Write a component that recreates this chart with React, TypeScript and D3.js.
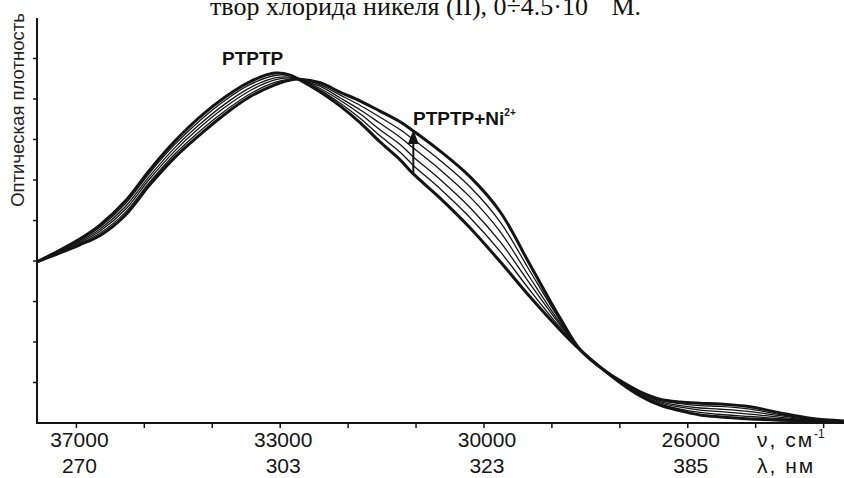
import React from "react";
import * as d3 from "d3";

// Spectral positions along the lower axis, expressed in tick steps (tick 0 = 37000 cm-1).
const positions = [
  -0.58, -0.24, 0.05, 0.35, 0.72, 1.08, 1.45, 1.82, 2.19, 2.56, 2.92, 3.15,
  3.29, 3.59, 3.88, 4.18, 4.47, 4.77, 4.96, 5.35, 5.8, 6.24, 6.68, 7.12,
  7.42, 7.71, 8.01, 8.3, 8.59, 8.89, 9.18, 9.48, 9.92, 10.36, 10.8, 11.3,
];

// Optical density (relative units) for increasing Ni(II) concentration.
const absFree = [
  39.8, 42.7, 45.4, 48.9, 54.8, 62.5, 69.6, 75.6, 80.5, 84.3, 86.4, 85.9,
  84.7, 81.7, 78.3, 74.1, 69.4, 64.9, 61.5, 55.6, 48.1, 39.8, 31.1, 23.0,
  18.0, 13.8, 9.9, 6.7, 4.4, 3.0, 2.0, 1.5, 1.0, 0.7, 0.5, 0.2,
];
const absNi1 = [
  39.8, 42.6, 45.2, 48.4, 54.1, 61.8, 68.8, 74.7, 79.7, 83.6, 85.8, 85.7,
  84.7, 82.2, 79.0, 75.2, 70.9, 66.8, 63.6, 57.9, 50.6, 42.3, 32.7, 23.6,
  18.0, 13.8, 10.0, 6.9, 4.7, 3.4, 2.6, 2.1, 1.6, 1.1, 0.6, 0.3,
];
const absNi2 = [
  39.8, 42.5, 44.9, 47.9, 53.4, 61.0, 68.0, 73.8, 78.8, 82.8, 85.2, 85.4,
  84.8, 82.6, 79.7, 76.3, 72.4, 68.7, 65.7, 60.2, 53.1, 44.7, 34.3, 24.2,
  18.0, 13.8, 10.1, 7.1, 5.0, 3.9, 3.2, 2.8, 2.2, 1.4, 0.8, 0.3,
];
const absNi3 = [
  39.8, 42.3, 44.6, 47.4, 52.7, 60.3, 67.2, 73.0, 78.0, 82.1, 84.7, 85.2,
  84.8, 83.1, 80.3, 77.3, 74.0, 70.5, 67.9, 62.6, 55.7, 47.2, 35.8, 24.7,
  18.0, 13.8, 10.2, 7.3, 5.3, 4.3, 3.7, 3.4, 2.8, 1.8, 0.9, 0.4,
];
const absNi4 = [
  39.8, 42.2, 44.3, 46.9, 52.0, 59.5, 66.4, 72.1, 77.1, 81.3, 84.1, 84.9,
  84.9, 83.5, 81.0, 78.4, 75.5, 72.4, 70.0, 64.9, 58.2, 49.6, 37.4, 25.3,
  18.0, 13.8, 10.3, 7.5, 5.6, 4.8, 4.3, 4.1, 3.4, 2.1, 1.1, 0.4,
];
const absNi5 = [
  39.8, 42.0, 44.0, 46.3, 51.3, 58.8, 65.6, 71.2, 76.3, 80.6, 83.5, 84.7,
  84.9, 84.0, 81.7, 79.5, 77.0, 74.3, 72.1, 67.2, 60.7, 52.1, 39.0, 25.9,
  18.0, 13.8, 10.4, 7.7, 5.9, 5.2, 4.9, 4.7, 4.0, 2.5, 1.2, 0.5,
];

const seriesList = [absFree, absNi1, absNi2, absNi3, absNi4, absNi5];

// Lower axis: tick steps and the labelled ones.
const tickSteps = d3.range(0, 12);
const labelSteps = [0, 3, 6, 9];
const waveNumberLabels = ["37000", "33000", "30000", "26000"];
const waveLengthLabels = ["270", "303", "323", "385"];
const yTicks = [10, 20, 30, 40, 50, 60, 70, 80, 90];

const arrowIndex = 18;

const W = 844;
const H = 478;
const left = 37;
const bottom = 423;
const top = 18;

export default function App() {
  const x = d3.scaleLinear().domain([-0.58, 11.3]).range([left, W]);
  const y = d3.scaleLinear().domain([0, 100]).range([bottom, top]);

  const line = d3
    .line<number>()
    .x((_, i) => x(positions[i]))
    .y((d) => y(d))
    .curve(d3.curveCatmullRom.alpha(0.5));

  const sans = "'Liberation Sans', Arial, sans-serif";
  const ink = "#141414";

  const ax = x(positions[arrowIndex]);
  const ay0 = y(absFree[arrowIndex]);
  const ay1 = y(absNi5[arrowIndex]);

  return (
    <svg
      width={W}
      height={H}
      style={{ position: "absolute", left: 0, top: 0, background: "#fff" }}
    >
      {/* caption fragment above the plot */}
      <text
        x={210}
        y={15}
        fontFamily="'Liberation Serif', 'Times New Roman', serif"
        fontSize={26}
        fill="#111"
      >
        твор хлорида никеля (II), 0÷4.5·10
        <tspan dy={-24} fontSize={16}>−5</tspan>
        <tspan dy={24} fontSize={26}> M.</tspan>
      </text>

      {/* spectra */}
      {seriesList.map((s, i) => (
        <path
          key={i}
          d={line(s) || ""}
          fill="none"
          stroke={ink}
          strokeWidth={i === 0 || i === seriesList.length - 1 ? 3 : 1.3}
          strokeLinejoin="round"
        />
      ))}

      {/* axes */}
      <line x1={left} y1={top} x2={left} y2={bottom} stroke={ink} strokeWidth={2} />
      <line x1={left - 1} y1={bottom} x2={W} y2={bottom} stroke={ink} strokeWidth={2} />
      {yTicks.map((t) => (
        <line key={t} x1={left - 4} x2={left} y1={y(t)} y2={y(t)} stroke={ink} strokeWidth={1.5} />
      ))}
      {tickSteps.map((t) => (
        <line key={t} x1={x(t)} x2={x(t)} y1={bottom} y2={bottom + 5} stroke={ink} strokeWidth={1.5} />
      ))}

      {labelSteps.map((t, i) => (
        <g key={t} fontFamily={sans} fontSize={21} fill={ink} textAnchor="middle">
          <text x={x(t) + 3} y={447}>{waveNumberLabels[i]}</text>
          <text x={x(t) + 3} y={473}>{waveLengthLabels[i]}</text>
        </g>
      ))}
      <text x={757} y={447} fontFamily={sans} fontSize={21} letterSpacing={2} fill={ink}>
        ν, см<tspan dy={-9} fontSize={12} letterSpacing={0}>-1</tspan>
      </text>
      <text x={757} y={473} fontFamily={sans} fontSize={21} letterSpacing={2} fill={ink}>
        λ, нм
      </text>

      <text
        transform={`translate(24,110) rotate(-90)`}
        textAnchor="middle"
        fontFamily={sans}
        fontSize={18.5}
        fill="#222"
      >
        Оптическая плотность
      </text>

      {/* annotations */}
      <text x={222} y={65} fontFamily={sans} fontWeight="bold" fontSize={19} fill={ink}>
        PTPTP
      </text>
      <text x={413} y={125} fontFamily={sans} fontWeight="bold" fontSize={19} fill={ink}>
        PTPTP+Ni<tspan dy={-9} fontSize={10}>2+</tspan>
      </text>

      <line x1={ax} x2={ax} y1={ay0} y2={ay1 + 10} stroke={ink} strokeWidth={2} />
      <path
        d={`M${ax},${ay1 - 1} L${ax - 5.5},${ay1 + 13} L${ax + 5.5},${ay1 + 13} Z`}
        fill={ink}
      />
    </svg>
  );
}
